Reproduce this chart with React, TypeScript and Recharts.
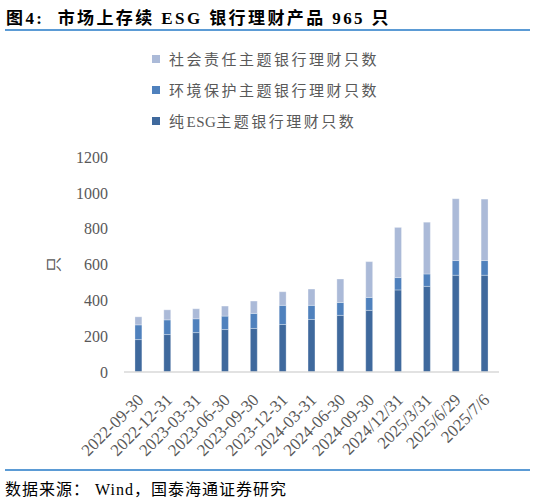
import { BarChart, Bar, XAxis, YAxis } from 'recharts';

// 截至各日期存续的 ESG 银行理财只数
const dates = [
  '2022-09-30', '2022-12-31', '2023-03-31', '2023-06-30', '2023-09-30', '2023-12-31',
  '2024-03-31', '2024-06-30', '2024-09-30', '2024/12/31', '2025/3/31', '2025/6/29', '2025/7/6',
];
const pureEsg = [181, 209, 220, 237, 243, 265, 293, 316, 344, 458, 478, 540, 540];
const environment = [82, 82, 77, 75, 84, 107, 79, 72, 72, 69, 69, 82, 82];
const social = [45, 56, 56, 56, 69, 76, 91, 131, 200, 280, 289, 345, 343];
const yTicks = [0, 200, 400, 600, 800, 1000, 1200];

const series = [
  { key: 'social', name: '社会责任主题银行理财只数', color: '#abbad8' },
  { key: 'environment', name: '环境保护主题银行理财只数', color: '#4f81bd' },
  { key: 'pure', name: '纯ESG主题银行理财只数', color: '#3f699d' },
];

const data = dates.map((date, i) => ({
  date,
  pure: pureEsg[i],
  environment: environment[i],
  social: social[i],
}));

const FONT = "'Times New Roman', 'Liberation Serif', 'Noto Sans CJK SC', serif";

function DateTick(props: any) {
  const { x, y, payload } = props;
  return (
    <g transform={`translate(${x + 6},${y + 21})`}>
      <text
        x={0}
        y={0}
        textAnchor="end"
        transform="rotate(-45)"
        fill="#595959"
        fontSize={17}
        fontFamily={FONT}
      >
        {payload.value}
      </text>
    </g>
  );
}

// 中文字距宽一些，拉丁字母保持正常
function LegendText({ text }: { text: string }) {
  const parts = text.split(/([A-Za-z]+)/).filter(Boolean);
  return (
    <span style={{ fontSize: 15, color: '#595959', whiteSpace: 'nowrap' }}>
      {parts.map((p, i) => (
        <span key={i} style={{ letterSpacing: /[A-Za-z]/.test(p) ? 0.5 : 2.5 }}>
          {p}
        </span>
      ))}
    </span>
  );
}

export default function App() {
  return (
    <div
      style={{
        position: 'absolute',
        left: 0,
        top: 0,
        width: 538,
        height: 498,
        background: '#fff',
        fontFamily: FONT,
      }}
    >
      <div
        style={{
          position: 'absolute',
          left: 6,
          top: 4,
          fontSize: 17,
          fontWeight: 'bold',
          letterSpacing: 2.4,
          color: '#000',
          whiteSpace: 'nowrap',
        }}
      >
        图4:&nbsp; 市场上存续 ESG 银行理财产品 965 只
      </div>
      <div style={{ position: 'absolute', left: 5, top: 29, width: 525, height: 2, background: '#5b9bd5' }} />

      <div style={{ position: 'absolute', left: 152, top: 43 }}>
        {series.map((s) => (
          <div key={s.key} style={{ display: 'flex', alignItems: 'center', height: 31 }}>
            <div style={{ width: 8, height: 8, background: s.color, marginRight: 9 }} />
            <LegendText text={s.name} />
          </div>
        ))}
      </div>

      <BarChart
        width={538}
        height={498}
        data={data}
        margin={{ top: 157, right: 39, bottom: 26, left: 0 }}
        barCategoryGap="62%"
        style={{ position: 'absolute', left: 0, top: 0 }}
      >
        <XAxis
          dataKey="date"
          interval={0}
          height={100}
          tickLine={false}
          axisLine={{ stroke: '#d9d9d9', strokeWidth: 1.5 }}
          tick={<DateTick />}
        />
        <YAxis
          width={124}
          domain={[0, 1200]}
          ticks={yTicks}
          axisLine={false}
          tickLine={false}
          tickMargin={10}
          tick={{ fill: '#595959', fontSize: 16, fontFamily: FONT }}
          label={{
            value: '只',
            content: ({ viewBox }: any) => (
              <text
                x={viewBox.x + 54}
                y={viewBox.y + viewBox.height / 2}
                textAnchor="middle"
                dominantBaseline="central"
                transform={`rotate(-90, ${viewBox.x + 54}, ${viewBox.y + viewBox.height / 2})`}
                fill="#595959"
                fontSize={15}
                fontFamily={FONT}
              >
                只
              </text>
            ),
          }}
        />
        <Bar dataKey="pure" stackId="a" fill="#3f699d" stroke="#ffffff" strokeOpacity={0.5} strokeWidth={0.6} isAnimationActive={false} />
        <Bar dataKey="environment" stackId="a" fill="#4f81bd" stroke="#ffffff" strokeOpacity={0.5} strokeWidth={0.6} isAnimationActive={false} />
        <Bar dataKey="social" stackId="a" fill="#abbad8" stroke="#ffffff" strokeOpacity={0.5} strokeWidth={0.6} isAnimationActive={false} />
      </BarChart>

      <div style={{ position: 'absolute', left: 5, top: 469, width: 525, height: 2, background: '#5b9bd5' }} />
      <div
        style={{
          position: 'absolute',
          left: 5,
          top: 476,
          fontSize: 16,
          letterSpacing: 1,
          color: '#000',
          whiteSpace: 'nowrap',
        }}
      >
        数据来源： Wind，国泰海通证券研究
      </div>
    </div>
  );
}
